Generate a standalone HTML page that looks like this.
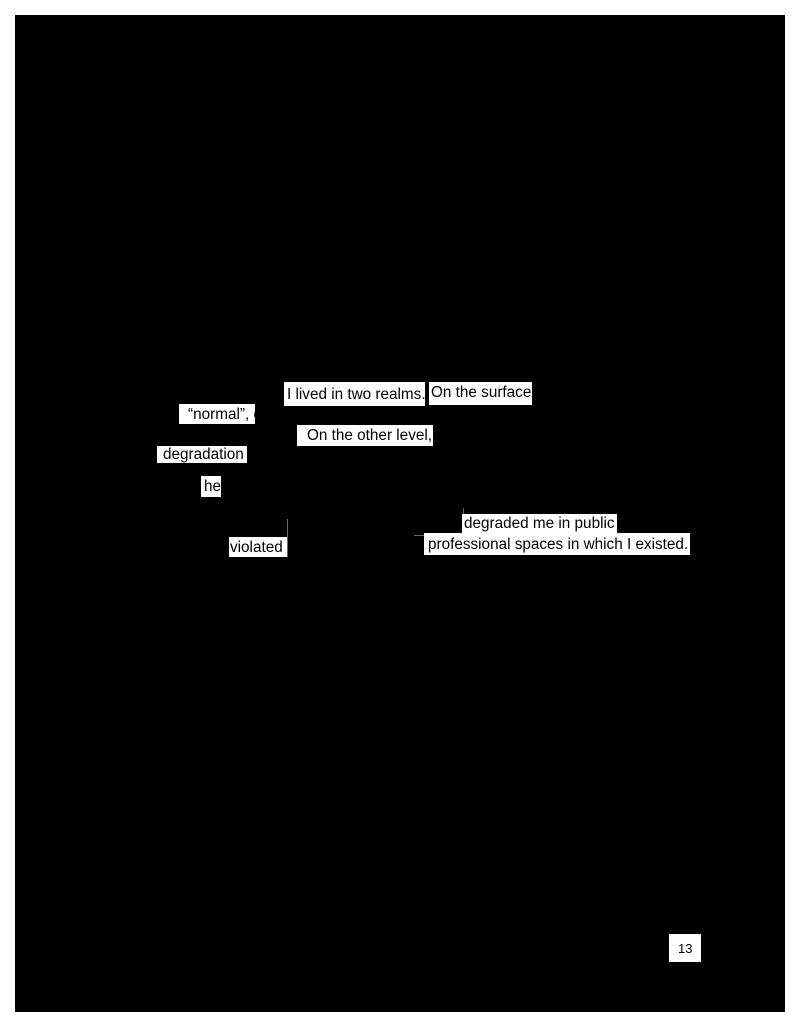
<!DOCTYPE html>
<html><head><style>
html,body{margin:0;padding:0;background:#fff;}
body{width:800px;height:1026px;position:relative;overflow:hidden;font-family:"Liberation Sans",Arial,sans-serif;}
.pg{position:absolute;left:15px;top:15px;width:770px;height:997px;background:#000;}
.b{position:absolute;background:#fff;color:#000;font-size:15.3px;line-height:1;white-space:nowrap;overflow:hidden;box-sizing:border-box;}
.ln{position:absolute;background:#666;}
</style></head><body>
<div class="pg"></div>
<div class="b" style="left:284px;top:382px;width:141px;height:24px;padding:5px 0 0 3px;">I lived in two realms.</div>
<div class="b" style="left:429px;top:382px;width:103px;height:23px;padding:3px 0 0 2px;">On the surface</div>
<div class="b" style="left:179px;top:404px;width:76px;height:20px;padding:3px 0 0 9px;">“normal”, c</div>
<div class="b" style="left:297px;top:425px;width:136px;height:21px;padding:3px 0 0 10px;">On the other level,</div>
<div class="b" style="left:157px;top:446px;width:90px;height:17px;padding:1px 0 0 6px;">degradation</div>
<div class="b" style="left:201px;top:476px;width:20px;height:21px;padding:3px 0 0 3px;">he</div>
<div class="b" style="left:462px;top:514px;width:155px;height:20px;padding:2px 0 0 2px;">degraded me in public</div>
<div class="b" style="left:229px;top:537px;width:58px;height:20px;padding:3px 0 0 1px;">violated</div>
<div class="b" style="left:424px;top:533px;width:266px;height:22px;padding:4px 0 0 4px;">professional spaces in which I existed.</div>
<div class="b" style="left:669px;top:934px;width:32px;height:28px;padding:8px 0 0 9px;font-size:13px;">13</div>
<div class="ln" style="left:287px;top:519px;width:1px;height:38px;"></div>
<div class="ln" style="left:414px;top:535px;width:10px;height:1px;"></div>
<div class="ln" style="left:463px;top:508px;width:1px;height:6px;"></div>
</body></html>
